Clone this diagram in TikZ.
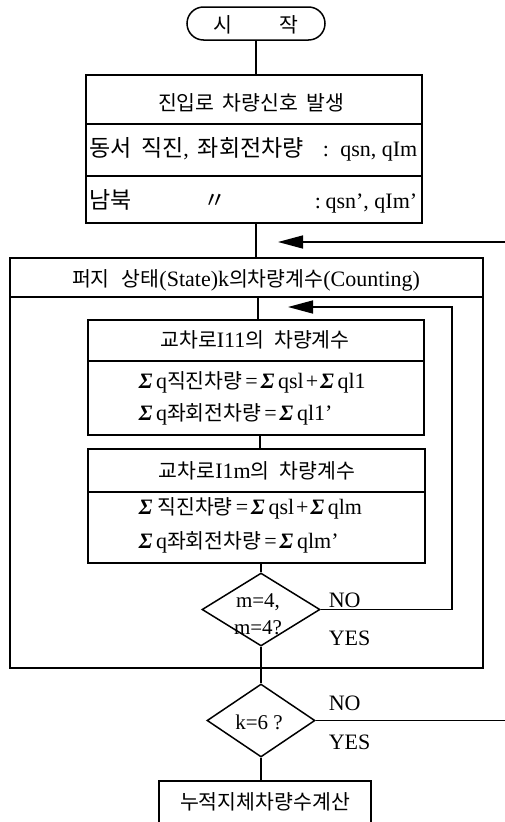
\documentclass[tikz,border=0pt]{standalone}
\usepackage{fontspec}
\setmainfont{Liberation Serif}
\newfontfamily\krfont{Noto Sans CJK KR}
\usetikzlibrary{arrows.meta,shapes.geometric}
\newcommand\K[1]{{\krfont\fontsize{20.5}{24}\selectfont #1}}
\newcommand\KB[1]{{\krfont\fontsize{23}{27}\selectfont #1}}
\newcommand\Sg{{\bfseries\itshape Σ}}
\begin{document}
\begin{tikzpicture}[x=1pt,y=-1pt,line width=1.5pt,
  box/.style={draw,rectangle,inner sep=0pt},
  lbl/.style={inner sep=0pt,font=\fontsize{22}{26}\selectfont},
  dec/.style={draw,diamond,inner sep=0pt},
  arr/.style={-{Triangle[length=25pt,width=13pt]}},
  divider/.style={line width=1.3pt}]
\useasboundingbox (0,0) rectangle (505,822);
\fill[white] (0,0) rectangle (505,822);

% start terminal
\node[box,rounded corners=16.5pt,minimum width=138pt,minimum height=33pt] (start) at (256,23.5) {};
\node[lbl,anchor=base] (tstart) at (256,32) {\K{시}\hspace{47pt}\K{작}};

% top box
\node[box,minimum width=336pt,minimum height=148pt] (top) at (254,149) {};
\coordinate (r1) at (0,124);
\coordinate (r2) at (0,176);
\draw[divider] (top.west |- r1) -- (top.east |- r1);
\draw[divider] (top.west |- r2) -- (top.east |- r2);
\node[lbl,anchor=base] (tt) at (251,110) {\K{진입로}\hspace{8pt}\K{차량신호}\hspace{8pt}\K{발생}};
\node[lbl,anchor=base west] (tr2a) at (89,156) {\KB{동서}\hspace{9pt}\KB{직진},\hspace{9pt}\KB{좌회전차량}};
\node[lbl,anchor=base] (tr2b) at (326,156) {:};
\node[lbl,anchor=base east] (tr2c) at (418,156) {qsn, qIm};
\node[lbl,anchor=base west] (tr3a) at (89,208.5) {\KB{남북}};
\node[lbl,anchor=base] (tr3b) at (215,208.5) {\KB{〃}};
\node[lbl,anchor=base] (tr3d) at (318,208.5) {:};
\node[lbl,anchor=base east] (tr3c) at (418,208.5) {qsn', qIm'};

% outer box
\node[box,minimum width=473pt,minimum height=410pt] (outer) at (246.5,463) {};
\coordinate (hd) at (0,297);
\draw[divider] (outer.west |- hd) -- (outer.east |- hd);
\node[lbl,anchor=base] (th) at (246,286) {\K{퍼지}\hspace{12pt}\K{상태}(State)k\K{의차량계수}(Counting)};

% inner box 1
\node[box,minimum width=336pt,minimum height=115pt] (in1) at (256,377.5) {};
\coordinate (q1) at (0,361);
\draw[divider] (in1.west |- q1) -- (in1.east |- q1);
\node[lbl,anchor=base] (ti1) at (255,347) {\K{교차로}I11\K{의}\hspace{10pt}\K{차량계수}};
\node[lbl,anchor=base west] (ti1a) at (138,388) {\Sg\,q\K{직진차량}\hspace{3pt}=\hspace{3pt}\Sg\,qsl\hspace{2pt}+\hspace{2pt}\Sg\,ql1};
\node[lbl,anchor=base west] (ti1b) at (138,420) {\Sg\,q\K{좌회전차량}\hspace{3pt}=\hspace{3pt}\Sg\,ql1'};

% inner box 2
\node[box,minimum width=337pt,minimum height=114pt] (in2) at (256.5,506) {};
\coordinate (q2) at (0,492);
\draw[divider] (in2.west |- q2) -- (in2.east |- q2);
\node[lbl,anchor=base] (ti2) at (257,478) {\K{교차로}I1m\K{의}\hspace{10pt}\K{차량계수}};
\node[lbl,anchor=base west] (ti2a) at (138,514) {\Sg\hspace{5pt}\K{직진차량}\hspace{3pt}=\hspace{3pt}\Sg\,qsl\hspace{2pt}+\hspace{2pt}\Sg\,qlm};
\node[lbl,anchor=base west] (ti2b) at (138,548) {\Sg\,q\K{좌회전차량}\hspace{3pt}=\hspace{3pt}\Sg\,qlm'};

% decisions
\node[dec,minimum width=118pt,minimum height=73pt] (d1) at (261,609.5) {};
\node[lbl,anchor=base,font=\fontsize{21}{24}\selectfont] (td1a) at (258,607) {m=4,};
\node[lbl,anchor=base,font=\fontsize{21}{24}\selectfont] (td1b) at (258,634) {m=4?};
\node[lbl,anchor=base west] (no1) at (328,607.5) {NO};
\node[lbl,anchor=base west] (yes1) at (328,645.5) {YES};

\node[dec,minimum width=108pt,minimum height=73pt] (d2) at (261,720.5) {};
\node[lbl,anchor=base,font=\fontsize{21}{24}\selectfont] (td2) at (259,729) {k=6 ?};
\node[lbl,anchor=base west] (no2) at (328,710.5) {NO};
\node[lbl,anchor=base west] (yes2) at (328,749.5) {YES};

% final box
\node[box,minimum width=212pt,minimum height=60pt] (fin) at (265,811) {};
\node[lbl,anchor=base] (tfin) at (265,809) {\K{누적지체차량수계산}};

% connectors
\coordinate (sA) at (256,0);
\coordinate (sB) at (258,0);
\coordinate (sC) at (260,0);
\draw (start.south -| sA) -- (top.north -| sA);
\draw (top.south -| sA) -- (outer.north -| sA);
\draw (hd -| sB) -- (in1.north -| sB);
\draw (in1.south -| sC) -- (in2.north -| sC);
\draw (in2.south -| d1) -- (d1.north);
\draw (d1.south) -- (d2.north);
\draw (d2.south) -- (fin.north -| d2.south);

\coordinate (lx) at (452,0);
\coordinate (tip2) at (288,307);
\draw[arr] (d1.east) -- (d1.east -| lx) -- (lx |- tip2) -- (tip2);

\coordinate (e1) at (505,242);
\coordinate (tip1) at (278,242);
\draw[arr] (e1) -- (tip1);
\coordinate (e2) at (505,0);
\draw (d2.east) -- (d2.east -| e2);
\end{tikzpicture}
\end{document}
